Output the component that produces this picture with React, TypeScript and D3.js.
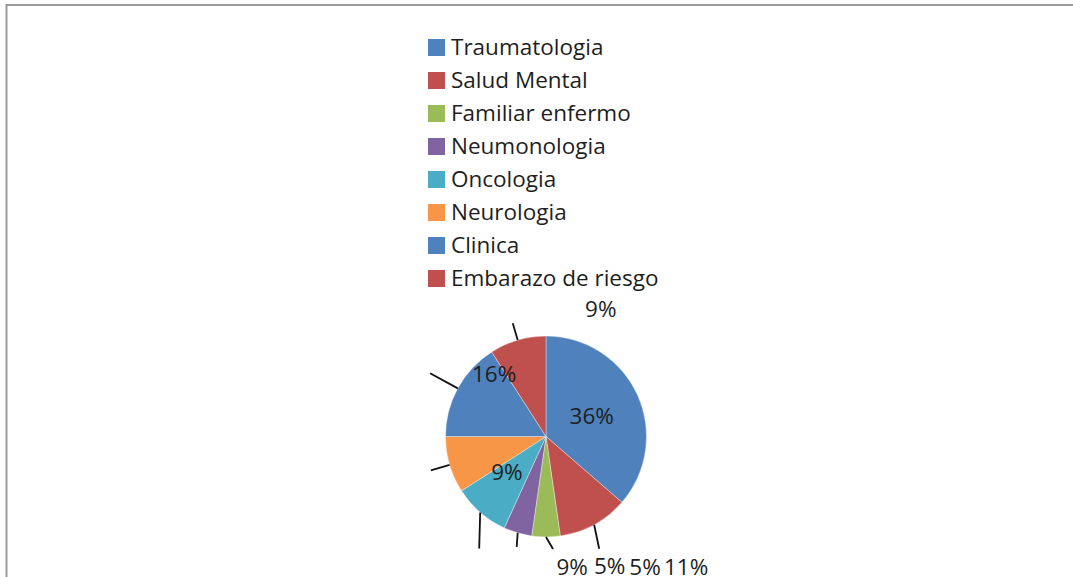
import React from "react";
import * as d3 from "d3";

const categories = [
  "Traumatologia",
  "Salud Mental",
  "Familiar enfermo",
  "Neumonologia",
  "Oncologia",
  "Neurologia",
  "Clinica",
  "Embarazo de riesgo",
];
const counts = [16, 5, 2, 2, 4, 4, 7, 4];
const colors = ["#4F81BD", "#C0504D", "#9BBB59", "#8064A2", "#4BACC6", "#F79646", "#4F81BD", "#C0504D"];

// label layout per slice (Excel-style placement)
type Lay = { inside?: boolean; radial?: number; off?: [number, number]; lab: [number, number] };
const layout: Lay[] = [
  { inside: true, lab: [0, 0] },
  { off: [5, 24], lab: [87, 18] },
  { off: [7, 12], lab: [92, 18] },
  { off: [-1, 14], lab: [93, 19] },
  { off: [-1, 36], lab: [93, 19] },
  { radial: 120, lab: [76, 2] },
  { radial: 132, lab: [64, 1] },
  { radial: 118, lab: [88, -14] },
];

const W = 1073;
const H = 577;
const FONT = "'Open Sans', sans-serif";
const FS = 22.5;
const TXT = "#1e1e1e";

export default function App() {
  const cx = 546;
  const cy = 436.5;
  const r = 100.5;
  const total = d3.sum(counts);
  const pie = d3.pie<number>().sort(null).value((d) => d)(counts);
  const arc = d3.arc<d3.PieArcDatum<number>>().innerRadius(0).outerRadius(r);
  const pct = (v: number) => `${Math.round((v / total) * 100)}%`;

  const legendX = 428;
  const legendY = 39;
  const rowH = 33;

  return (
    <div style={{ position: "fixed", left: 0, top: 0, width: W, height: H, background: "#fff" }}>
      <svg width={W} height={H} style={{ display: "block" }}>
        <rect x={0} y={0} width={W} height={H} fill="#fff" />
        <line x1={6.5} y1={4} x2={6.5} y2={H} stroke="#9a9a9a" strokeWidth={2} />
        <line x1={6} y1={5} x2={W} y2={5} stroke="#9a9a9a" strokeWidth={2} />
        {categories.map((c, i) => (
          <g key={c}>
            <rect x={legendX} y={legendY + i * rowH} width={17} height={17} fill={colors[i]} />
            <text
              x={legendX + 23}
              y={legendY + i * rowH + 8.5}
              dy="0.35em"
              fontFamily={FONT}
              fontSize={FS}
              fill={TXT}
            >
              {c}
            </text>
          </g>
        ))}
        <g transform={`translate(${cx},${cy})`}>
          {pie.map((p, i) => (
            <path key={i} d={arc(p) || ""} fill={colors[i]} stroke="#ffffff" strokeWidth={0.6} strokeOpacity={0.6} />
          ))}
          {pie.map((p, i) => {
            const L = layout[i];
            const mid = (p.startAngle + p.endAngle) / 2;
            const sx = Math.sin(mid) * r;
            const sy = -Math.cos(mid) * r;
            if (L.inside) {
              const [x, y] = arc.centroid(p);
              return (
                <text key={i} x={x} y={y} textAnchor="middle" dy="0.35em" fontFamily={FONT} fontSize={FS} fill={TXT}>
                  {pct(p.value)}
                </text>
              );
            }
            let ex: number, ey: number;
            if (L.radial) {
              ex = Math.sin(mid) * L.radial;
              ey = -Math.cos(mid) * L.radial;
            } else {
              ex = sx + L.off![0];
              ey = sy + L.off![1];
            }
            return (
              <g key={i}>
                <line x1={sx} y1={sy} x2={ex} y2={ey} stroke="#111" strokeWidth={1.8} />
                <text
                  x={ex + L.lab[0]}
                  y={ey + L.lab[1]}
                  textAnchor="middle"
                  dy="0.35em"
                  fontFamily={FONT}
                  fontSize={FS}
                  fill={TXT}
                >
                  {pct(p.value)}
                </text>
              </g>
            );
          })}
        </g>
      </svg>
    </div>
  );
}
